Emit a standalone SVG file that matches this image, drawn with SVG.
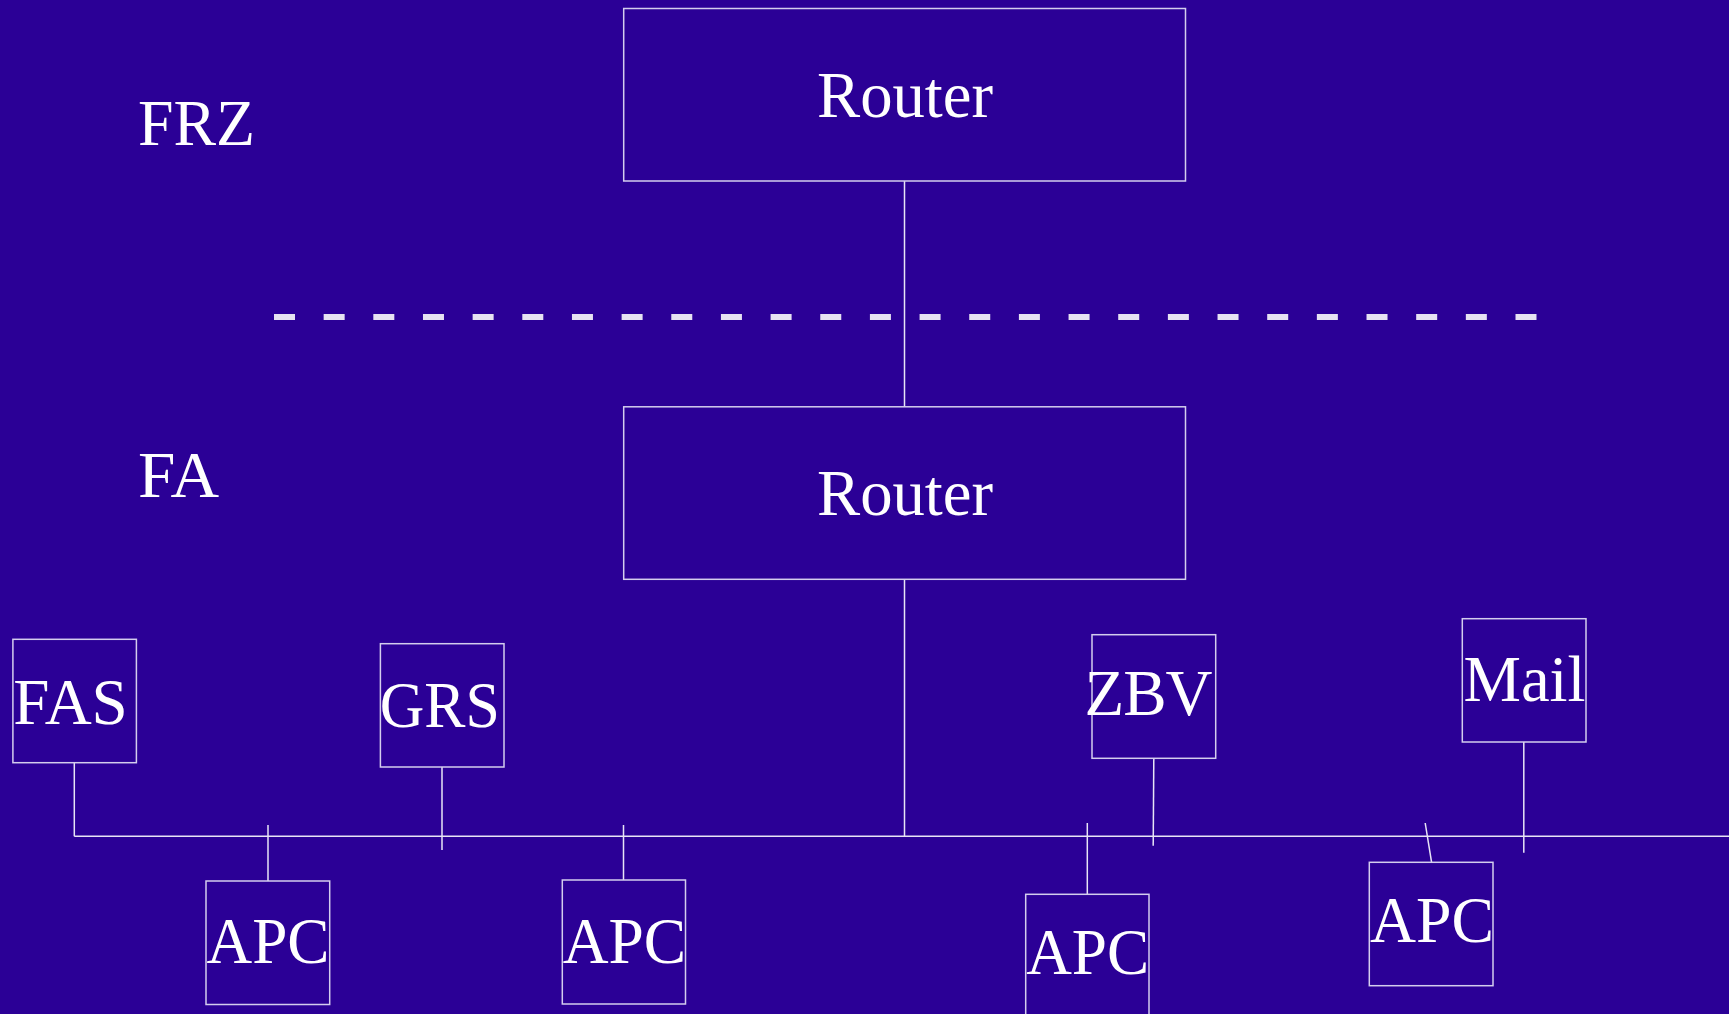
<svg xmlns="http://www.w3.org/2000/svg" width="1729" height="1014" viewBox="0 0 1729 1014">
<style>
.bg{fill:#2b0096}
.box{fill:none;stroke:#d4cdee;stroke-width:1.5}
.ln{stroke:#e8e4f6;stroke-width:1.5;fill:none}
.t{font-family:"Liberation Serif","Times New Roman",serif;font-size:65px;fill:#ffffff}
.dash{stroke:#e6e2f2;stroke-width:6;stroke-dasharray:21 28.66}
</style>
<rect class="bg" x="0" y="0" width="1729" height="1014"/>
<text class="t" x="138" y="144.5" textLength="117" lengthAdjust="spacingAndGlyphs">FRZ</text>
<text class="t" x="138" y="496.7" textLength="81" lengthAdjust="spacingAndGlyphs">FA</text>
<line class="dash" x1="274" y1="317" x2="1537" y2="317"/>
<g id="connectors">
<line class="ln" x1="904.5" y1="181" x2="904.5" y2="407"/>
<line class="ln" x1="904.5" y1="579" x2="904.5" y2="836.3"/>
<line class="ln" x1="74.3" y1="836.3" x2="1729" y2="836.3"/>
<line class="ln" x1="74.3" y1="762.7" x2="74.3" y2="836.3"/>
<line class="ln" x1="442" y1="767" x2="442" y2="850"/>
<line class="ln" x1="268" y1="825" x2="268" y2="881"/>
<line class="ln" x1="623.5" y1="825" x2="623.5" y2="880"/>
<line class="ln" x1="1153.8" y1="758.3" x2="1153.2" y2="845.7"/>
<line class="ln" x1="1087.3" y1="823" x2="1087.3" y2="894.3"/>
<line class="ln" x1="1523.8" y1="742" x2="1523.8" y2="852.7"/>
<line class="ln" x1="1425.2" y1="823" x2="1431.6" y2="862.3"/>
</g>
<g id="router-frz">
<rect class="box" x="623.7" y="8.5" width="561.8" height="172.5"/>
<text class="t" x="817" y="116.7" textLength="176" lengthAdjust="spacingAndGlyphs">Router</text>
</g>
<g id="router-fa">
<rect class="box" x="623.7" y="406.8" width="561.8" height="172.5"/>
<text class="t" x="817" y="515" textLength="176" lengthAdjust="spacingAndGlyphs">Router</text>
</g>
<g id="fas">
<rect class="box" x="12.9" y="639.3" width="123.5" height="123.4"/>
<text class="t" x="13.3" y="724" textLength="114.5" lengthAdjust="spacingAndGlyphs">FAS</text>
</g>
<g id="grs">
<rect class="box" x="380.4" y="643.7" width="123.6" height="123.3"/>
<text class="t" x="379.8" y="726.7" textLength="120" lengthAdjust="spacingAndGlyphs">GRS</text>
</g>
<g id="zbv">
<rect class="box" x="1092" y="634.7" width="123.7" height="123.6"/>
<text class="t" x="1084.5" y="715" textLength="128" lengthAdjust="spacing">ZBV</text>
</g>
<g id="mail">
<rect class="box" x="1462.3" y="618.7" width="123.7" height="123.3"/>
<text class="t" x="1463.5" y="700.7" textLength="122" lengthAdjust="spacingAndGlyphs">Mail</text>
</g>
<g id="apc1">
<rect class="box" x="206" y="881" width="123.7" height="123.5"/>
<text class="t" x="206.5" y="963" textLength="123" lengthAdjust="spacingAndGlyphs">APC</text>
</g>
<g id="apc2">
<rect class="box" x="562.3" y="880" width="123.2" height="124"/>
<text class="t" x="562.7" y="962.7" textLength="123.5" lengthAdjust="spacingAndGlyphs">APC</text>
</g>
<g id="apc3">
<rect class="box" x="1025.7" y="894.3" width="123.3" height="124"/>
<text class="t" x="1026.2" y="974.3" textLength="123" lengthAdjust="spacingAndGlyphs">APC</text>
</g>
<g id="apc4">
<rect class="box" x="1369.3" y="862.3" width="123.7" height="123.4"/>
<text class="t" x="1370" y="942.3" textLength="124" lengthAdjust="spacingAndGlyphs">APC</text>
</g>
</svg>
